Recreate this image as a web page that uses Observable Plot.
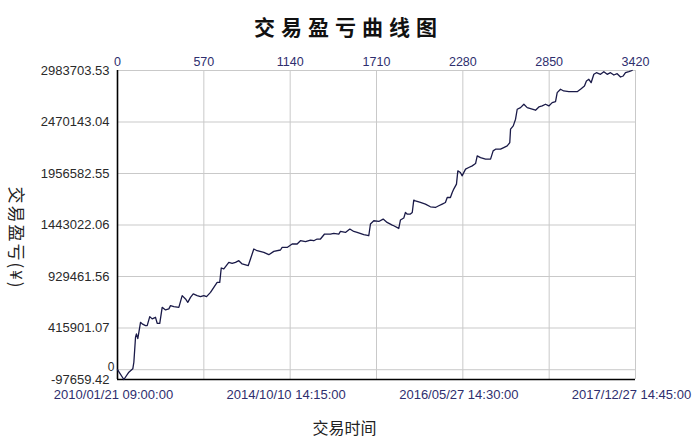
<!DOCTYPE html>
<html>
<head>
<meta charset="utf-8">
<script src="https://cdn.jsdelivr.net/npm/d3@7"></script>
<script src="https://cdn.jsdelivr.net/npm/@observablehq/plot@0.6"></script>
<style>
  html, body { margin: 0; padding: 0; background: #fff; }
  #chart svg { display: block; }
</style>
</head>
<body>
<div id="chart"></div>
<script>
// ---- data ----
const chartTitle = "交易盈亏曲线图";
const yTitle = "交易盈亏(¥)";
const xTitle = "交易时间";

const yTicks = [-97659.42, 415901.07, 929461.56, 1443022.06, 1956582.55, 2470143.04, 2983703.53];
const topTicks = [0, 570, 1140, 1710, 2280, 2850, 3420];
const dateTickIdx = [0, 1140, 2280, 3420];
const dateTickLabels = ["2010/01/21 09:00:00", "2014/10/10 14:15:00", "2016/05/27 14:30:00", "2017/12/27 14:45:00"];

const tradeIdx = [
  0, 42, 75, 101, 108, 119, 125, 134, 141, 152, 163, 185, 196, 213, 229, 251, 262, 279, 295, 317,
  339, 350, 372, 405, 427, 449, 464, 482, 500, 526, 548, 570, 588, 614, 636, 658, 675, 685, 702, 735,
  757, 779, 801, 823, 863, 878, 900, 922, 966, 999, 1032, 1076, 1087, 1120, 1153, 1186, 1208, 1241, 1274, 1296,
  1318, 1340, 1367, 1406, 1428, 1461, 1472, 1505, 1534, 1560, 1582, 1626, 1659, 1670, 1692, 1725, 1754, 1780, 1814, 1824,
  1857, 1868, 1890, 1901, 1912, 1934, 1946, 1956, 1967, 2000, 2033, 2066, 2099, 2121, 2144, 2165, 2177, 2198, 2210, 2220,
  2238, 2247, 2264, 2275, 2298, 2319, 2342, 2364, 2375, 2397, 2430, 2463, 2480, 2496, 2529, 2550, 2573, 2590, 2595, 2613,
  2628, 2639, 2661, 2683, 2705, 2738, 2760, 2782, 2804, 2826, 2848, 2870, 2892, 2903, 2925, 2946, 2980, 3035, 3057, 3083,
  3096, 3112, 3127, 3145, 3162, 3189, 3211, 3233, 3255, 3277, 3299, 3321, 3339, 3354, 3376, 3398
];
const tradeValue = [
  0, -97659, -24999, 8851, 74561, 323461, 357311, 310518, 373241, 472801, 456871, 439946, 439946, 529550, 506651, 522581, 462845, 462845, 622141, 596255,
  606211, 639066, 629110, 622141, 738626, 705771, 671921, 721701, 755551, 738626, 728670, 738626, 728670, 771481, 821261, 871041, 871041, 1014407, 1004451, 1070161,
  1060205, 1070161, 1087086, 1054231, 1037306, 1104011, 1203571, 1186646, 1169721, 1146822, 1179677, 1193615, 1219501, 1219501, 1253351, 1253351, 1286206, 1276250, 1293175, 1286206,
  1303131, 1303131, 1352911, 1352911, 1358885, 1352911, 1378797, 1368841, 1402691, 1378797, 1368841, 1345942, 1335986, 1452471, 1485326, 1478357, 1502251, 1468401, 1442515, 1435546,
  1408665, 1492295, 1512207, 1567961, 1552031, 1552031, 1567961, 1691415, 1684446, 1667521, 1651591, 1624710, 1617741, 1634666, 1651591, 1667521, 1717301, 1717301, 1767081, 1800931,
  1850711, 1983126, 1966201, 1933346, 2000051, 2015981, 2032906, 2055805, 2132466, 2115541, 2099611, 2099611, 2182246, 2199171, 2199171, 2215101, 2232026, 2264881, 2398291, 2431146,
  2497851, 2597411, 2613341, 2647191, 2613341, 2597411, 2587455, 2620310, 2630266, 2647191, 2630266, 2663121, 2673077, 2762681, 2796531, 2779606, 2772637, 2772637, 2796531, 2829386,
  2879166, 2896091, 2862241, 2945871, 2961801, 2945871, 2971757, 2945871, 2961801, 2938902, 2951845, 2918990, 2928946, 2961801, 2971757, 2983704
];

const data = tradeIdx.map((d, i) => ({idx: d, value: tradeValue[i]}));

// ---- chart ----
const latin = "'Liberation Sans', Arial, sans-serif";
const cjk = "'Noto Sans CJK SC', sans-serif";
const navy = "#2e2e6e";
const gridColor = "#c9c9c9";

const chart = Plot.plot({
  width: 694,
  height: 440,
  marginLeft: 117,
  marginRight: 59,
  marginTop: 70,
  marginBottom: 61,
  style: {fontFamily: latin, background: "#fff"},
  x: {domain: [0, 3420], axis: null},
  y: {domain: [yTicks[0], yTicks[yTicks.length - 1]], axis: null},
  marks: [
    Plot.gridX(topTicks, {stroke: gridColor, strokeOpacity: 1}),
    Plot.gridY(yTicks.concat([0]), {stroke: gridColor, strokeOpacity: 1}),
    Plot.ruleX([0], {stroke: "#000", strokeWidth: 1.6}),
    Plot.ruleY([yTicks[0]], {stroke: "#000", strokeWidth: 1.6}),
    Plot.line(data, {x: "idx", y: "value", stroke: "#1a1a48", strokeWidth: 1.3}),
    Plot.axisY(yTicks, {tickSize: 0, tickPadding: 8, tickFormat: d => d.toFixed(2), fontSize: 13, fill: "#2a2a2a", label: null}),
    Plot.axisY([0], {tickSize: 0, tickPadding: 3, dy: -3, tickFormat: d => String(d), fontSize: 12, fill: "#2a2a2a", label: null}),
    Plot.axisX(topTicks, {anchor: "top", tickSize: 0, tickPadding: 5, tickFormat: d => String(d), fontSize: 12.5, fill: navy, label: null}),
    Plot.axisX(dateTickIdx, {anchor: "bottom", tickSize: 0, tickPadding: 10, dx: -4, tickFormat: (d, i) => dateTickLabels[i], fontSize: 13, fill: navy, label: null}),
    Plot.text([chartTitle], {frameAnchor: "top", lineAnchor: "middle", dy: -42, dx: -28, fontSize: 21, fontWeight: "bold", fontFamily: cjk, fill: "#111"}),
    Plot.text([xTitle], {frameAnchor: "bottom", lineAnchor: "middle", dx: -32, dy: 49, fontSize: 16, fontFamily: cjk, fill: "#222"}),
    Plot.text([yTitle], {frameAnchor: "left", textAnchor: "middle", lineAnchor: "middle", dx: -102, dy: 13, rotate: 90, fontSize: 17, fontFamily: cjk, fill: "#222"})
  ]
});
d3.select(chart).selectAll("text")
  .filter(function() { return this.textContent === chartTitle; })
  .attr("letter-spacing", "6px");
d3.select(chart).selectAll("text")
  .filter(function() { return this.textContent === yTitle; })
  .attr("letter-spacing", "2px");
document.getElementById("chart").appendChild(chart);
</script>
</body>
</html>
